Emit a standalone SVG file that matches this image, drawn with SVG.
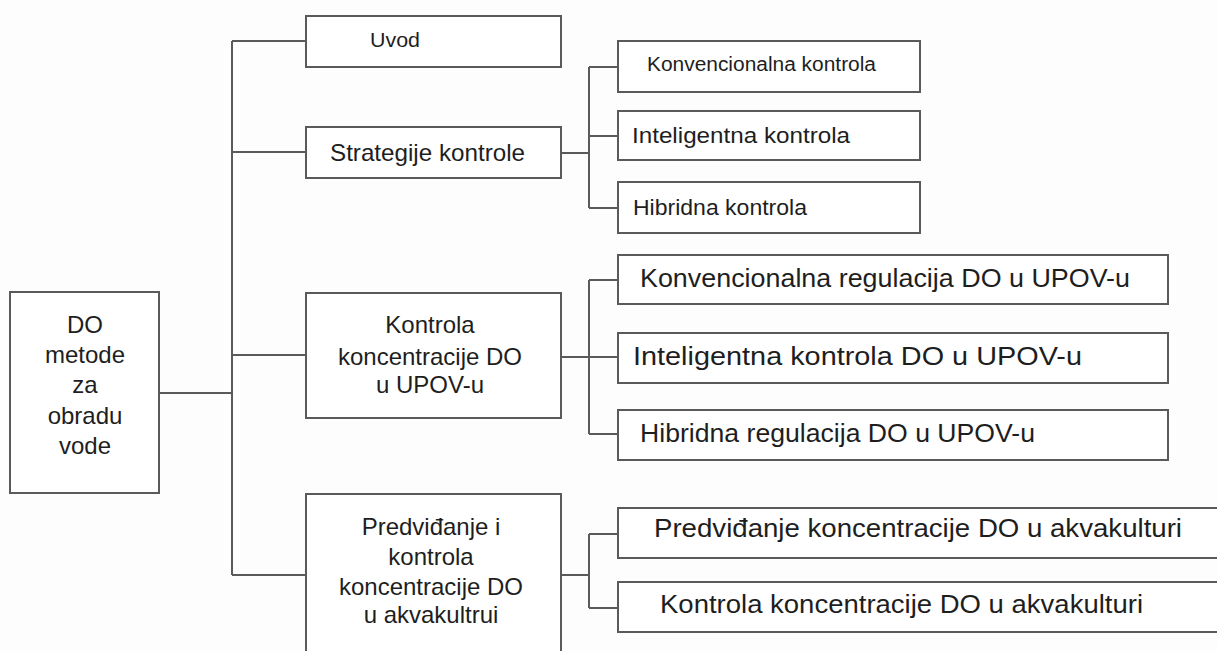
<svg xmlns="http://www.w3.org/2000/svg" width="1217" height="651" viewBox="0 0 1217 651">
<style>
.box{fill:#ffffff;stroke:#5a5a5a;stroke-width:2}
.ln{stroke:#5a5a5a;stroke-width:2;fill:none}
text{font-family:"Liberation Sans",Arial,sans-serif;fill:#1e1e1e}
.c{text-anchor:middle;font-size:24px}
</style>
<rect width="1217" height="651" fill="#fdfdfd"/>
<g id="connectors">
<path class="ln" d="M159,393H232M232,41V575M232,41H306M232,152H306M232,355H306M232,575H306"/>
<path class="ln" d="M561,153H589M589,67V208M589,67H618M589,136H618M589,208H618"/>
<path class="ln" d="M561,357H589M589,280V434M589,280H618M589,357H618M589,434H618"/>
<path class="ln" d="M561,575H589M589,534V608M589,534H618M589,608H618"/>
</g>
<g id="root">
<rect class="box" x="10" y="292" width="149" height="201"/>
<text class="c" x="85" y="333">DO</text>
<text class="c" x="85" y="363">metode</text>
<text class="c" x="85" y="393">za</text>
<text class="c" x="85" y="424">obradu</text>
<text class="c" x="85" y="454">vode</text>
</g>
<g id="uvod">
<rect class="box" x="306" y="16" width="255" height="51"/>
<text x="370" y="47" font-size="21" textLength="50" lengthAdjust="spacingAndGlyphs">Uvod</text>
</g>
<g id="strategije">
<rect class="box" x="306" y="127" width="255" height="51"/>
<text x="330" y="161" font-size="24" textLength="195" lengthAdjust="spacingAndGlyphs">Strategije kontrole</text>
</g>
<g id="kontrola-upov">
<rect class="box" x="306" y="293" width="255" height="125"/>
<text class="c" x="430" y="333">Kontrola</text>
<text class="c" x="430" y="365">koncentracije DO</text>
<text class="c" x="430" y="393">u UPOV-u</text>
</g>
<g id="predvidanje">
<rect class="box" x="306" y="494" width="255" height="170"/>
<text class="c" x="431" y="535">Predviđanje i</text>
<text class="c" x="431" y="565">kontrola</text>
<text class="c" x="431" y="595">koncentracije DO</text>
<text class="c" x="431" y="623">u akvakultrui</text>
</g>
<g id="konv-kontrola">
<rect class="box" x="618" y="41" width="302" height="51"/>
<text x="647" y="71" font-size="20" textLength="229" lengthAdjust="spacingAndGlyphs">Konvencionalna kontrola</text>
</g>
<g id="int-kontrola">
<rect class="box" x="618" y="111" width="302" height="49"/>
<text x="632" y="143" font-size="22" textLength="218" lengthAdjust="spacingAndGlyphs">Inteligentna kontrola</text>
</g>
<g id="hib-kontrola">
<rect class="box" x="618" y="182" width="302" height="51"/>
<text x="633" y="215" font-size="22" textLength="174" lengthAdjust="spacingAndGlyphs">Hibridna kontrola</text>
</g>
<g id="konv-regulacija">
<rect class="box" x="618" y="255" width="550" height="49"/>
<text x="640" y="287" font-size="26" textLength="490" lengthAdjust="spacingAndGlyphs">Konvencionalna regulacija DO u UPOV-u</text>
</g>
<g id="int-kontrola-do">
<rect class="box" x="618" y="333" width="550" height="50"/>
<text x="633" y="365" font-size="26" textLength="449" lengthAdjust="spacingAndGlyphs">Inteligentna kontrola DO u UPOV-u</text>
</g>
<g id="hib-regulacija">
<rect class="box" x="618" y="410" width="550" height="50"/>
<text x="640" y="442" font-size="26" textLength="395" lengthAdjust="spacingAndGlyphs">Hibridna regulacija DO u UPOV-u</text>
</g>
<g id="predvidanje-akva">
<rect class="box" x="618" y="508" width="610" height="50"/>
<text x="654" y="537" font-size="26" textLength="528" lengthAdjust="spacingAndGlyphs">Predviđanje koncentracije DO u akvakulturi</text>
</g>
<g id="kontrola-akva">
<rect class="box" x="618" y="582" width="610" height="50"/>
<text x="660" y="613" font-size="26" textLength="483" lengthAdjust="spacingAndGlyphs">Kontrola koncentracije DO u akvakulturi</text>
</g>
</svg>
